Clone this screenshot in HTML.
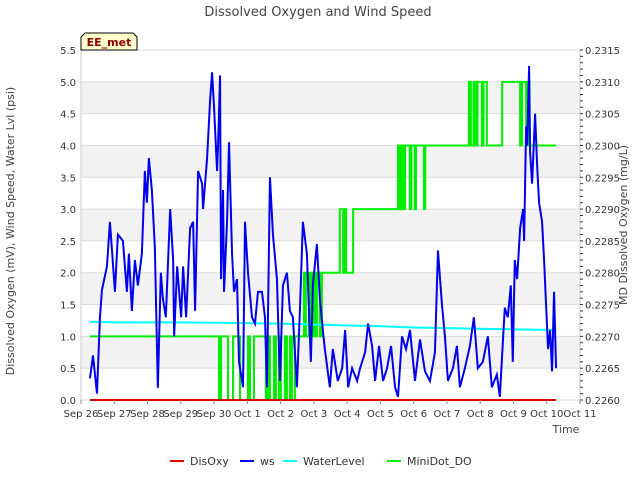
<!DOCTYPE html>
<html><head><meta charset="utf-8"><style>
body{margin:0;background:#fff;font-family:"DejaVu Sans","Liberation Sans",sans-serif;}
svg text{font-family:"DejaVu Sans","Liberation Sans",sans-serif;}
</style></head><body>
<svg id="chart" width="640" height="480">
<text x="318" y="16" text-anchor="middle" font-size="13" fill="#444">Dissolved Oxygen and Wind Speed</text>
<g id="bands"></g><g id="grid"></g>
<line x1="81" y1="50" x2="81" y2="400" stroke="#ccc"/>
<line x1="580" y1="50" x2="580" y2="400" stroke="#ccc"/>
<g id="series"></g><g id="ticks"></g>
<text x="14" y="231" transform="rotate(-90 14 231)" text-anchor="middle" font-size="11" fill="#444">Dissolved Oxygen (mV), Wind Speed, Water Lvl (psi)</text>
<text x="627" y="225" transform="rotate(-90 627 225)" text-anchor="middle" font-size="11" fill="#444">MD Dissolved Oxygen (mg/L)</text>
<text x="566" y="433" text-anchor="middle" font-size="11" fill="#444">Time</text>
<g>
<path d="M81,50 L81,37 L85,33 L133,33 L137,37 L137,50 Z" fill="#ffffcc" stroke="#000"/>
<text x="109" y="46" text-anchor="middle" font-size="11" font-weight="bold" fill="#8b0000">EE_met</text></g>
<g id="legend"></g>
</svg>
<script>
const xTickLabels=["Sep 26","Sep 27","Sep 28","Sep 29","Sep 30","Oct 1","Oct 2","Oct 3","Oct 4","Oct 5","Oct 6","Oct 7","Oct 8","Oct 9","Oct 10","Oct 11"];
const yLeftTicks=[0,0.5,1,1.5,2,2.5,3,3.5,4,4.5,5,5.5];
const yRightTicks=[0.2260,0.2265,0.2270,0.2275,0.2280,0.2285,0.2290,0.2295,0.2300,0.2305,0.2310,0.2315];
const wsT=[.27,.36,.48,.57,.63,.78,.87,1.02,1.11,1.26,1.38,1.44,1.53,1.62,1.71,1.83,1.92,1.98,2.04,2.13,2.22,2.31,2.40,2.46,2.55,2.68,2.77,2.80,2.89,3.01,3.07,3.16,3.28,3.37,3.43,3.52,3.64,3.67,3.79,3.88,3.94,4.00,4.09,4.12,4.18,4.21,4.27,4.30,4.39,4.45,4.54,4.60,4.69,4.75,4.87,4.93,5.02,5.14,5.23,5.32,5.44,5.53,5.59,5.68,5.77,5.89,5.98,6.07,6.19,6.28,6.37,6.49,6.58,6.67,6.79,6.91,6.97,7.09,7.18,7.27,7.33,7.48,7.57,7.72,7.85,7.94,8.03,8.15,8.30,8.39,8.54,8.63,8.75,8.84,8.96,9.08,9.20,9.32,9.44,9.53,9.65,9.77,9.89,10.04,10.19,10.34,10.49,10.64,10.73,10.85,10.94,11.03,11.18,11.30,11.39,11.54,11.69,11.81,11.93,12.08,12.23,12.35,12.50,12.59,12.68,12.74,12.83,12.92,12.98,13.04,13.11,13.20,13.29,13.32,13.38,13.41,13.47,13.50,13.56,13.65,13.71,13.77,13.86,13.92,13.98,14.04,14.10,14.16,14.22,14.28];
const wsV=[.34,.7,.1,1.3,1.73,2.1,2.8,1.7,2.6,2.5,1.7,2.3,1.4,2.2,1.8,2.3,3.6,3.1,3.8,3.3,2.4,.19,2.0,1.6,1.3,3.0,2.2,1.0,2.1,1.3,2.1,1.3,2.7,2.8,1.4,3.6,3.4,3.0,3.8,4.7,5.15,4.6,3.6,4.0,5.1,1.9,3.3,1.7,2.8,4.05,2.3,1.7,1.9,.6,.2,2.8,2.0,1.3,1.2,1.7,1.7,1.3,.2,3.5,2.6,1.9,.3,1.8,2.0,1.4,1.3,.2,1.4,2.8,2.3,.6,1.8,2.45,1.6,1.1,.8,.2,.8,.3,.5,1.1,.2,.5,.3,.5,.75,1.2,.85,.3,.85,.3,.5,.85,.2,.05,1.0,.8,1.1,.3,.95,.45,.3,.75,2.35,1.5,1.0,.3,.5,.85,.2,.5,.85,1.3,.5,.6,1.0,.2,.4,.05,.9,1.45,1.3,1.8,.6,2.2,1.9,2.7,3.0,2.5,4.3,4.0,5.25,3.9,3.4,4.5,3.7,3.1,2.8,2.2,1.5,.8,1.1,.45,1.7,.5];
const wlT=[.27,1.0,3.0,6.0,7.4,8.0,9.0,10.0,11.0,12.0,13.0,14.28];
const wlV=[1.23,1.22,1.22,1.20,1.18,1.17,1.16,1.14,1.13,1.12,1.11,1.10];
const doxT=[.27,14.28];
const doxV=[0,0];
const mdT=[.27,4.15,4.21,4.42,4.57,4.78,5.02,5.08,5.20,5.56,5.62,5.68,5.80,5.86,5.95,6.01,6.13,6.19,6.28,6.34,6.43,6.70,6.76,6.85,6.91,6.97,7.03,7.09,7.18,7.24,7.78,7.88,7.94,7.97,8.18,9.53,9.58,9.62,9.68,9.74,9.88,9.93,10.03,10.07,10.31,10.35,11.66,11.72,11.80,11.86,11.92,12.05,12.10,12.20,12.66,13.20,13.26,13.38,13.42,13.48,14.28];
const mdV=[.2270,.2260,.2270,.2260,.2270,.2260,.2270,.2260,.2270,.2260,.2270,.2260,.2270,.2260,.2270,.2260,.2270,.2260,.2270,.2260,.2270,.2280,.2270,.2280,.2270,.2280,.2270,.2280,.2270,.2280,.2290,.2280,.2290,.2280,.2290,.2300,.2290,.2300,.2290,.2300,.2290,.2300,.2290,.2300,.2290,.2300,.2310,.2300,.2310,.2300,.2310,.2300,.2310,.2300,.2310,.2300,.2310,.2300,.2310,.2300,.2300];
const NS="http://www.w3.org/2000/svg";
const X0=81,X1=580,Y0=400,Y1=50;
const xs=d=>X0+d*(X1-X0)/15;
const yl=v=>Y0-v*(Y0-Y1)/5.5;
const yr=v=>Y0-(v-0.2260)*(Y0-Y1)/0.0055;
function mk(tag,attrs,parent){const e=document.createElementNS(NS,tag);for(const k in attrs)e.setAttribute(k,attrs[k]);document.getElementById(parent).appendChild(e);return e;}
for(let i=1;i<yLeftTicks.length-1;i+=2){
  const b=mk('rect',{x:X0,y:yl(yLeftTicks[i+1]),width:X1-X0,height:yl(yLeftTicks[i])-yl(yLeftTicks[i+1]),fill:'#f2f2f2'},'bands');
  
  
}
yLeftTicks.forEach(v=>{
  const g=mk('line',{x1:X0,x2:X1,y1:yl(v),y2:yl(v),stroke:'#dcdcdc'},'grid');
  
  
  const t=mk('text',{x:X0-5,y:yl(v)+4,'text-anchor':'end','font-size':10,fill:'#333'},'ticks');
  t.textContent=v.toFixed(1);
  
  
});
yRightTicks.forEach(v=>{
  const t=mk('text',{x:X1+5,y:yr(v)+4,'font-size':10,fill:'#333'},'ticks');
  t.textContent=v.toFixed(4);
  
  
});
for(let v=0.2260;v<=0.23151;v+=0.0001){
  const m=mk('line',{x1:X1,x2:X1+3,y1:yr(v),y2:yr(v),stroke:'#333'},'ticks');
  
  
}
xTickLabels.forEach((l,i)=>{
  const t=mk('text',{x:xs(i),y:417,'text-anchor':'middle','font-size':10,fill:'#333'},'ticks');
  t.textContent=l;
  
  
  const m=mk('line',{x1:xs(i),x2:xs(i),y1:Y0,y2:Y0+4,stroke:'#888'},'ticks');
  
  
});
function line(T,V,fy,color,name,step){
  let d='';
  T.forEach((t,i)=>{
    if(i===0)d+='M'+xs(t)+','+fy(V[i]);
    else if(step)d+='L'+xs(t)+','+fy(V[i-1])+'L'+xs(t)+','+fy(V[i]);
    else d+='L'+xs(t)+','+fy(V[i]);
  });
  const p=mk('path',{d:d,fill:'none',stroke:color,'stroke-width':2},'series');
  
  
}
line(mdT,mdV,yr,'#00ee00','series-minidot-do',true);
line(wlT,wlV,yl,'#00ffff','series-waterlevel',false);
line(wsT,wsV,yl,'#0000ee','series-ws',false);
line(doxT,doxV,yl,'#dd0000','series-disoxy',false);
const legNames=["DisOxy","ws","WaterLevel","MiniDot_DO"];
const legColors=['#dd0000','#0000ee','#00ffff','#00ee00'];
const legX=[170,240,283,387];
legNames.forEach((n,i)=>{
  const l=mk('line',{x1:legX[i],x2:legX[i]+14,y1:461,y2:461,stroke:legColors[i],'stroke-width':2},'legend');
  
  
  const t=mk('text',{x:legX[i]+20,y:465,'font-size':11,fill:'#333'},'legend');
  t.textContent=n;
  
  
});
</script>
</body></html>
